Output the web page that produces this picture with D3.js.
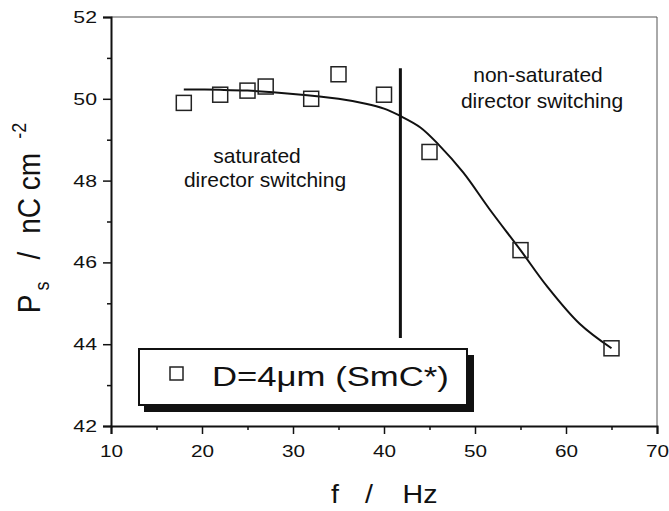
<!DOCTYPE html>
<html>
<head>
<meta charset="utf-8">
<script src="https://cdn.jsdelivr.net/npm/d3@7"></script>
<style>
  body { margin: 0; background: #fff; }
  svg { display: block; }
  text { font-family: "Liberation Sans", Arial, sans-serif; fill: #111; }
</style>
</head>
<body>
<div id="chart"></div>
<script>
// measured points (frequency in Hz, Ps in nC cm^-2)
var freq = [18, 22, 25, 27, 32, 35, 40, 45, 55, 65];
var ps = [49.9, 50.1, 50.2, 50.3, 50.0, 50.6, 50.1, 48.7, 46.3, 43.9];

// fitted curve
var fitFreq = [18, 22, 25, 30, 35, 38, 40, 41.8, 44, 46, 48.7, 51.6, 55, 57.9, 61.5, 65];
var fitPs = [50.23, 50.22, 50.2, 50.12, 50.0, 49.88, 49.76, 49.58, 49.3, 48.88, 48.2, 47.3, 46.3, 45.42, 44.5, 43.9];

// boundary between the two regimes
var boundaryFreq = 41.8;
var boundaryPs = [44.15, 50.75];

var xTicks = [10, 20, 30, 40, 50, 60, 70];
var xMinor = [15, 25, 35, 45, 55, 65];
var yTicks = [42, 44, 46, 48, 50, 52];
var yMinor = [43, 45, 47, 49, 51];

var legendLabel = "D=4\u03bcm (SmC*)";

//svg size and margins
var svgWidth = 669;
var svgHeight = 511;
var margin = { top: 17, right: 12, bottom: 85, left: 111 };
var width = svgWidth - margin.left - margin.right;
var height = svgHeight - margin.top - margin.bottom;

var svg = d3.select("#chart")
  .append("svg")
  .attr("width", svgWidth)
  .attr("height", svgHeight);

var chartGroup = svg.append("g")
  .attr("transform", `translate(${margin.left}, ${margin.top})`);

var xScale = d3.scaleLinear().domain([10, 70]).range([0, width]);
var yScale = d3.scaleLinear().domain([42, 52]).range([height, 0]);

// top and right frame lines (thin)
chartGroup.append("line")
  .attr("x1", 0).attr("x2", width).attr("y1", 0).attr("y2", 0)
  .attr("stroke", "#555").attr("stroke-width", 1);
chartGroup.append("line")
  .attr("x1", width).attr("x2", width).attr("y1", 0).attr("y2", height)
  .attr("stroke", "#555").attr("stroke-width", 1);

// x axis
var xAxis = chartGroup.append("g")
  .attr("transform", `translate(0, ${height})`)
  .call(d3.axisBottom(xScale).tickValues(xTicks).tickSize(8).tickPadding(11).tickFormat(d3.format("d")));
chartGroup.append("g")
  .attr("transform", `translate(0, ${height})`)
  .call(d3.axisBottom(xScale).tickValues(xMinor).tickSize(4).tickFormat(""))
  .select(".domain").remove();

// y axis
var yAxis = chartGroup.append("g")
  .call(d3.axisLeft(yScale).tickValues(yTicks).tickSize(8).tickFormat(d3.format("d")));
chartGroup.append("g")
  .call(d3.axisLeft(yScale).tickValues(yMinor).tickSize(4).tickFormat(""))
  .select(".domain").remove();

chartGroup.selectAll(".domain").attr("stroke", "#111").attr("stroke-width", 2);
chartGroup.selectAll(".tick line").attr("stroke", "#111").attr("stroke-width", 1.5);

xAxis.selectAll("text")
  .attr("font-size", "17px")
  .attr("font-family", "Liberation Sans, Arial, sans-serif")
  .attr("fill", "#111")
  .attr("transform", "scale(1.22,1)");

yAxis.selectAll("text")
  .attr("font-size", "17px")
  .attr("font-family", "Liberation Sans, Arial, sans-serif")
  .attr("fill", "#111")
  .attr("x", 0)
  .attr("transform", "translate(-14,0) scale(1.25,1)");

// fitted line
var line = d3.line()
  .x((d, i) => xScale(fitFreq[i]))
  .y(d => yScale(d))
  .curve(d3.curveCatmullRom.alpha(0.5));

chartGroup.append("path")
  .datum(fitPs)
  .attr("d", line)
  .attr("fill", "none")
  .attr("stroke", "#111")
  .attr("stroke-width", 2);

// vertical boundary
chartGroup.append("line")
  .attr("x1", xScale(boundaryFreq)).attr("x2", xScale(boundaryFreq))
  .attr("y1", yScale(boundaryPs[0])).attr("y2", yScale(boundaryPs[1]))
  .attr("stroke", "#111")
  .attr("stroke-width", 3);

// open squares
var sq = 15;
chartGroup.selectAll("rect.pt")
  .data(ps)
  .enter()
  .append("rect")
  .classed("pt", true)
  .attr("x", (d, i) => xScale(freq[i]) - sq / 2)
  .attr("y", d => yScale(d) - sq / 2)
  .attr("width", sq)
  .attr("height", sq)
  .attr("fill", "none")
  .attr("stroke", "#222")
  .attr("stroke-width", 1.5);

// annotations
svg.append("text").attr("x", 257).attr("y", 163).attr("text-anchor", "middle")
  .attr("font-size", "21px").text("saturated");
svg.append("text").attr("x", 265).attr("y", 187).attr("text-anchor", "middle")
  .attr("font-size", "21px").text("director switching");
svg.append("text").attr("x", 538).attr("y", 82).attr("text-anchor", "middle")
  .attr("font-size", "21px").text("non-saturated");
svg.append("text").attr("x", 542).attr("y", 108).attr("text-anchor", "middle")
  .attr("font-size", "21px").text("director switching");

// legend box with shadow
svg.append("rect")
  .attr("x", 144).attr("y", 355).attr("width", 330).attr("height", 57)
  .attr("fill", "#111");
svg.append("rect")
  .attr("x", 139).attr("y", 349).attr("width", 328).attr("height", 56)
  .attr("fill", "#fff")
  .attr("stroke", "#111")
  .attr("stroke-width", 2);
svg.append("rect")
  .attr("x", 170).attr("y", 367).attr("width", 13).attr("height", 13)
  .attr("fill", "none").attr("stroke", "#222").attr("stroke-width", 1.5);
svg.append("text")
  .attr("transform", "translate(212,386) scale(1.24,1)")
  .attr("font-size", "28px")
  .text(legendLabel);

// x axis title
svg.append("text").attr("transform", "translate(335,503) scale(1.1,1)")
  .attr("text-anchor", "middle").attr("font-size", "26px").text("f");
svg.append("text").attr("transform", "translate(369,503) scale(1.1,1)")
  .attr("text-anchor", "middle").attr("font-size", "26px").text("/");
svg.append("text").attr("transform", "translate(420,503) scale(1.1,1)")
  .attr("text-anchor", "middle").attr("font-size", "26px").text("Hz");

// y axis title (rotated)
var yTitle = svg.append("g")
  .attr("transform", "translate(40,218) scale(1.1,1) rotate(-90)");
var yt = yTitle.append("text").attr("text-anchor", "middle").attr("font-size", "28px");
yt.append("tspan").text("P");
yt.append("tspan").attr("font-size", "18px").attr("dy", 8).attr("dx", 4).text("s");
yt.append("tspan").attr("dy", -8).attr("dx", 22).text("/");
yt.append("tspan").attr("dx", 18).text("nC cm");
yt.append("tspan").attr("font-size", "18px").attr("dy", -13).attr("dx", 14).text("-2");
</script>
</body>
</html>
